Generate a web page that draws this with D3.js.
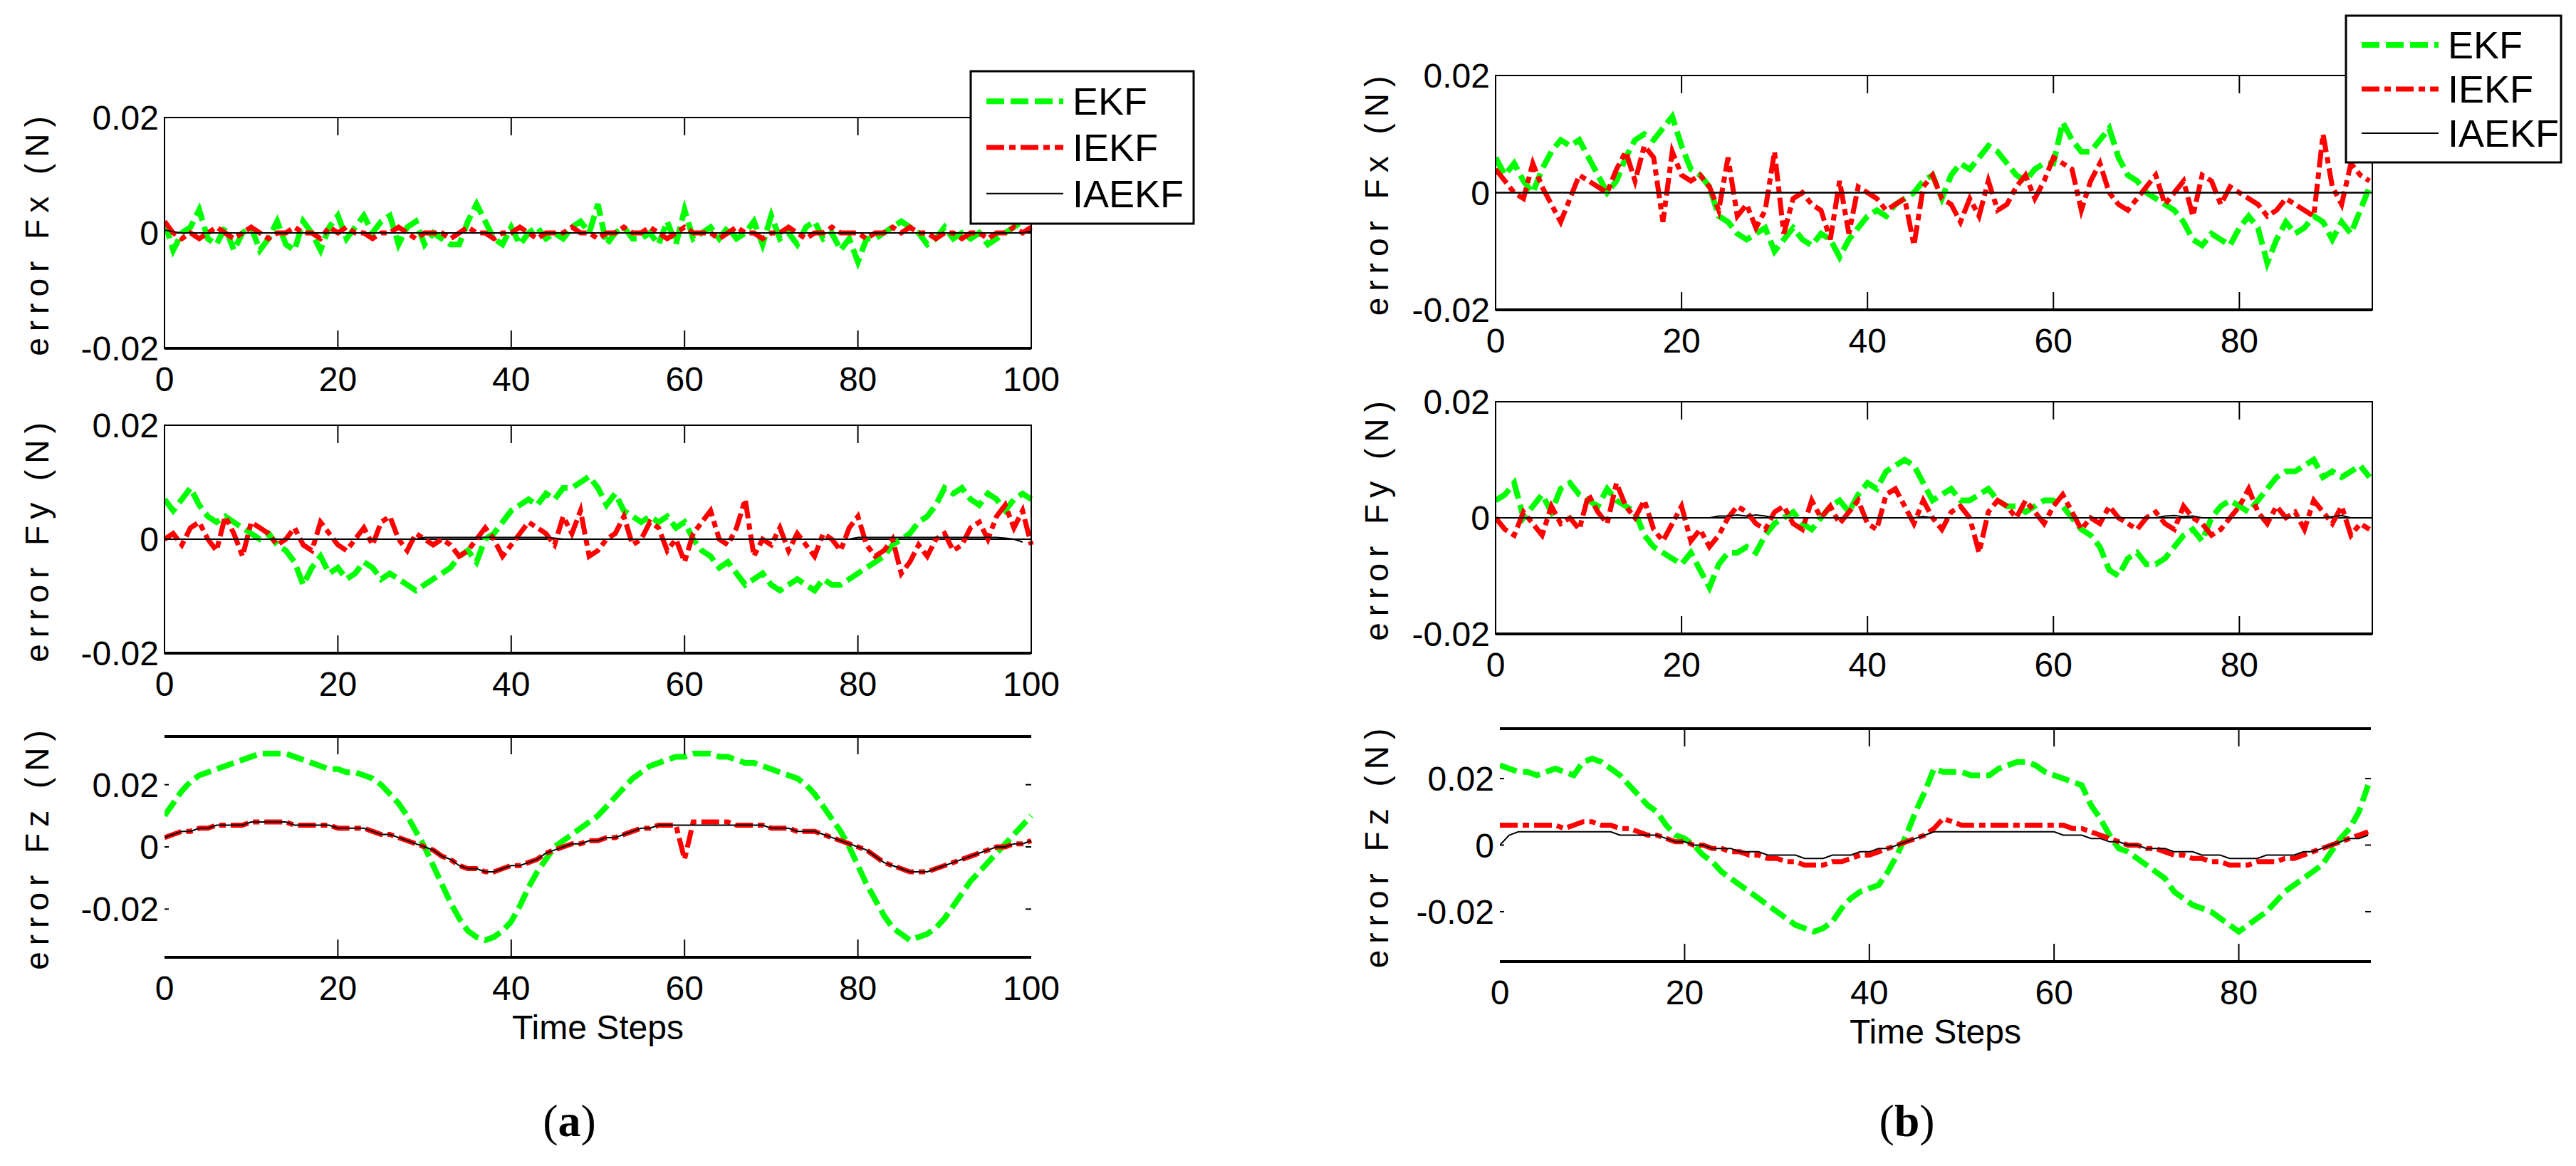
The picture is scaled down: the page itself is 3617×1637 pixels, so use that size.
<!DOCTYPE html>
<html>
<head>
<meta charset="utf-8">
<script src="https://cdn.jsdelivr.net/npm/d3@7"></script>
<style>
  body { margin: 0; background: white; }
  text { font-family: Arial, "Liberation Sans", sans-serif; fill: black; }
  .ekf { fill: none; stroke: #00ff00; stroke-width: 8px; stroke-dasharray: 25 9; }
  .iekf { fill: none; stroke: #ff0000; stroke-width: 7px; stroke-dasharray: 25 7 9 7; }
  .iaekf { fill: none; stroke: black; stroke-width: 2px; }
</style>
</head>
<body>
<svg id="chart" width="3617" height="1637"></svg>
<script>
// values in mN (1e-3 N)
var seriesNames = ["EKF", "IEKF", "IAEKF"];
var yTickValues = [20, 0, -20];
var yTickLabels = ["0.02", "0", "-0.02"];
var xTicks = [0, 20, 40, 60, 80, 100];

// ---- panel (a) ----
var aFxEKF = [2,-3,0,1,4,-1,-2,1,-3,0,1,-3,-1,2,-2,-3,2,0,-3,1,3,-1,1,3,0,2,3,-2,1,2,-2,0,-1,-2,-2,2,5,2,-1,-2,1,-2,0,1,-1,0,-1,1,2,0,5,-2,0,1,-1,-1,0,-2,2,-2,4,-1,0,1,-1,1,-1,0,2,-2,3,-1,0,-2,1,2,-1,0,-3,-1,-5,-1,-1,0,1,2,1,0,-2,-1,1,-1,0,-1,0,-2,-1,0,1,2,3];
var aFxIEKF = [2,0,-1,0,-1,0,1,0,-1,0,1,0,-1,0,0,1,0,0,-1,1,0,1,0,0,-1,0,0,1,0,-1,0,0,0,-1,0,1,0,0,-1,0,0,1,0,-1,0,0,0,1,0,0,-1,0,0,1,0,0,1,0,-1,0,1,0,0,0,-1,0,1,0,0,-1,0,0,1,0,-1,0,0,1,0,0,0,-1,0,0,1,0,1,0,0,-1,0,0,-1,0,0,-1,0,0,1,0,1];
var aFxIAEKF = [0.5,0.2,0,0,0,0,0,0,0,0,0,0,0,0,0,0,0,0,0,0,0,0,0,0,0,0,0,0,0,0,0,0,0,0,0,0,0,0,0,0,0,0,0,0,0,0,0,0,0,0,0,0,0,0,0,0,0,0,0,0,0,0,0,0,0,0,0,0,0,0,0,0,0,0,0,0,0,0,0,0,0,0,0,0,0,0,0,0,0,0,0,0,0,0,0,0,0,0,0,0,0.3];
var aFyEKF = [7,5,7,9,6,4,3,4,3,2,1,0,1,-1,-2,-4,-8,-5,-3,-6,-5,-7,-6,-4,-5,-7,-6,-7,-8,-9,-8,-7,-6,-5,-3,-2,-4,0,1,3,5,6,7,6,8,7,9,9,10,11,9,6,8,5,4,3,4,3,4,2,3,0,-2,-3,-5,-4,-6,-8,-7,-6,-8,-9,-8,-7,-8,-9,-7,-8,-8,-7,-6,-5,-4,-3,-1,0,1,3,4,6,9,8,9,7,6,8,7,5,7,8,7];
var aFyIEKF = [0,1,-1,2,3,0,-2,4,1,-3,3,2,1,-1,0,2,-1,-2,3,1,-1,-2,0,2,-1,3,4,0,-2,1,0,-1,0,-1,-3,-2,0,2,0,-3,-1,1,3,2,1,-1,4,1,5,-3,-2,0,1,4,-1,0,3,2,-2,0,-4,1,3,5,0,-1,2,7,-3,0,-1,2,-2,1,-1,-3,1,0,-2,2,4,-1,-3,-2,0,-6,-4,-1,-3,0,1,-2,-1,2,3,0,4,6,2,5,-1];
var aFyIAEKF = [0,0,0,0,0,0,0,0,0,0,0,0,0,0,0,0,0,0,0,0,0,0,0,0,0,0,0,0,0,0,0.3,0.3,0.3,0.3,0.3,0.3,0.3,0.3,0.3,0.3,0.3,0.3,0.3,0.3,0.3,0.2,0,0,0,0,0,0,0,0,0,0,0,0,0,0,0,0,0,0,0,0,0,0,0,0,0,0,0,0,0,0,0,0,0,0,0.3,0.3,0.3,0.3,0.3,0.3,0.3,0.3,0.3,0.3,0.3,0.3,0.3,0.3,0.3,0.3,0.3,0.2,0,-0.5];
var aFzEKF = [10,14,18,21,23,24,25,26,27,28,29,30,30,30,30,29,28,27,26,25,25,24,24,23,22,20,17,14,10,5,0,-6,-12,-18,-23,-27,-29,-30,-29,-27,-24,-19,-13,-8,-4,0,2,4,6,8,10,13,16,19,22,24,26,27,28,29,29,30,30,30,29,29,28,27,27,26,25,24,23,22,20,17,13,9,5,0,-6,-12,-17,-22,-26,-28,-30,-29,-28,-26,-23,-19,-15,-11,-8,-5,-2,1,4,7,10];
var aFzIEKF = [3,4,5,5,6,6,7,7,7,7,8,8,8,8,8,7,7,7,7,7,6,6,6,6,5,4,4,3,2,1,0,-1,-3,-4,-6,-7,-7,-8,-8,-7,-6,-6,-5,-4,-2,-1,0,1,1,2,2,3,3,4,5,6,6,7,7,7,-4,8,8,8,8,8,7,7,7,7,6,6,6,5,5,5,4,3,2,1,0,-1,-3,-5,-6,-7,-8,-8,-8,-7,-6,-5,-4,-3,-2,-1,0,0,1,1,2];
var aFzIAEKF = [3,4,5,5,6,6,7,7,7,7,8,8,8,8,8,7,7,7,7,7,6,6,6,6,5,4,4,3,2,1,0,-1,-3,-4,-6,-7,-7,-8,-8,-7,-6,-6,-5,-4,-2,-1,0,1,1,2,2,3,3,4,5,6,6,7,7,7,7,7,7,7,7,7,7,7,7,7,6,6,6,5,5,5,4,3,2,1,0,-1,-3,-5,-6,-7,-8,-8,-8,-7,-6,-5,-4,-3,-2,-1,0,0,1,1,2];

// ---- panel (b) ----
var bFxEKF = [6,3,5,2,0,4,7,9,8,9,6,3,0,2,6,9,10,9,11,13,8,4,3,1,-4,-5,-7,-8,-7,-6,-10,-8,-6,-8,-9,-7,-8,-11,-8,-6,-4,-3,-4,-2,-1,0,2,3,-1,3,5,4,6,8,7,5,3,2,4,5,5,12,9,7,7,9,11,6,3,2,0,-1,-2,-3,-5,-8,-9,-7,-8,-9,-6,-4,-6,-12,-8,-5,-7,-6,-4,-5,-8,-5,-7,-3,1];
var bFxIEKF = [4,2,0,-1,5,1,-2,-5,-1,3,2,1,0,4,7,2,8,6,-5,7,3,2,3,1,-3,6,-4,-2,-6,-3,7,-7,-1,0,-2,-3,-8,2,-7,1,0,-1,-3,-2,-1,-9,1,3,-1,-2,-5,-1,-4,2,-3,-2,1,3,-1,2,6,5,4,-3,2,5,0,-2,-3,-1,1,3,-2,0,2,-4,3,2,-2,1,0,-1,-2,-4,-3,-1,-2,-3,-4,10,1,-2,5,3,2];
var bFxIAEKF = [0,0,0,0,0,0,0,0,0,0,0,0,0,0,0,0,0,0,0,0,0,0,0,0,0,0,0,0,0,0,0,0,0,0,0,0,0,0,0,0,0,0,0,0,0,0,0,0,0,0,0,0,0,0,0,0,0,0,0,0,0,0,0,0,0,0,0,0,0,0,0,0,0,0,0,0,0,0,0,0,0,0,0,0,0,0,0,0,0,0,0,0,0,0,0];
var bFyEKF = [3,4,6,0,2,4,1,5,6,4,3,2,5,3,2,1,-3,-5,-6,-7,-8,-6,-9,-12,-8,-6,-6,-5,-6,-3,-1,0,1,-1,-2,0,2,3,1,4,6,5,8,9,10,9,6,3,4,5,3,3,4,5,3,2,2,1,2,3,3,2,0,-2,-3,-5,-9,-10,-7,-6,-8,-8,-7,-5,-3,-2,-4,0,2,3,2,1,3,5,7,8,8,9,10,7,8,7,8,9,7];
var bFyIEKF = [0,-2,-3,1,-1,-3,2,-1,0,-2,4,1,-1,6,2,0,3,-2,-4,-1,2,-4,-2,-5,-3,0,2,1,-1,-2,1,2,-1,-2,3,0,2,-1,1,3,-1,-2,4,5,2,-1,3,0,-2,1,2,0,-6,1,3,2,0,3,1,-1,2,4,1,-2,0,-1,2,0,-1,-2,0,1,-1,-2,2,0,-1,-3,-2,0,2,5,1,-1,2,0,1,-2,3,1,-1,2,-3,-1,-2];
var bFyIAEKF = [0,0,0,0,0,0,0,0,0,0,0,0,0,0,0,0,0,0,0,0,0,0,0,0,0.3,0.3,0.5,0.3,0.5,0.3,0,0,0,0,0,0,0,0,0,0,0,0,0,0,0,0,0.2,0,0,0,0,0,0,0,0,0,0,0,0,0,0,0,0,0,0,0,0,0,0,0,0,0,0.3,0.4,0.2,0.3,0,0,0,0,0,0,0,0,0,0,0,0,0,0,0.2,0.4,0,0,0];
var bFzEKF = [24,23,22,22,21,22,23,22,21,25,26,25,23,21,18,15,12,10,6,3,2,0,-3,-5,-8,-10,-12,-14,-16,-18,-20,-22,-24,-25,-26,-25,-23,-19,-16,-14,-13,-12,-8,-3,3,10,16,23,22,22,22,21,21,21,23,24,25,25,24,22,21,20,19,18,12,8,3,-1,-2,-4,-6,-8,-10,-14,-16,-18,-19,-20,-22,-24,-26,-24,-22,-20,-17,-14,-12,-10,-8,-6,-2,2,5,10,18];
var bFzIEKF = [6,6,6,6,6,6,6,5,6,7,7,6,6,5,5,4,3,3,2,1,1,0,0,-1,-1,-2,-2,-3,-3,-4,-4,-5,-5,-6,-6,-6,-5,-5,-4,-3,-3,-2,-1,0,1,2,3,5,8,7,6,6,6,6,6,6,6,6,6,6,6,6,5,5,4,3,2,1,0,0,-1,-1,-2,-3,-3,-4,-4,-5,-5,-6,-6,-6,-5,-5,-5,-4,-4,-3,-2,-1,0,1,2,3,4];
var bFzIAEKF = [0,3,4,4,4,4,4,4,4,4,4,4,4,3,3,3,3,3,2,1,1,0,0,-1,-1,-1,-2,-2,-2,-3,-3,-3,-3,-4,-4,-4,-3,-3,-3,-2,-2,-1,-1,0,1,2,3,4,4,4,4,4,4,4,4,4,4,4,4,4,4,3,3,3,2,2,1,1,0,0,-1,-1,-1,-2,-2,-2,-3,-3,-3,-4,-4,-4,-4,-3,-3,-3,-3,-2,-2,-1,0,1,2,2,3];

var panels = [
  {x0: 231, x1: 1448, y0: 165, y1: 489, xmax: 100, ydom: [-20, 20], label: "error Fx (N)", lx: 52, full: true,
   data: [aFxEKF, aFxIEKF, aFxIAEKF]},
  {x0: 231, x1: 1448, y0: 597, y1: 917, xmax: 100, ydom: [-20, 20], label: "error Fy (N)", lx: 52, full: true,
   data: [aFyEKF, aFyIEKF, aFyIAEKF]},
  {x0: 231, x1: 1448, y0: 1034, y1: 1344, xmax: 100, ydom: [-35.5, 35.5], label: "error Fz (N)", lx: 52, full: false,
   data: [aFzEKF, aFzIEKF, aFzIAEKF], xtitle: "Time Steps", tag: "a"},
  {x0: 2100, x1: 3331, y0: 106, y1: 435, xmax: 94.3, ydom: [-20, 20], label: "error Fx (N)", lx: 1933, full: true,
   data: [bFxEKF, bFxIEKF, bFxIAEKF]},
  {x0: 2100, x1: 3331, y0: 564, y1: 890, xmax: 94.3, ydom: [-20, 20], label: "error Fy (N)", lx: 1933, full: true,
   data: [bFyEKF, bFyIEKF, bFyIAEKF]},
  {x0: 2106, x1: 3329, y0: 1023, y1: 1350, xmax: 94.3, ydom: [-35, 35], label: "error Fz (N)", lx: 1933, full: false,
   data: [bFzEKF, bFzIEKF, bFzIAEKF], xtitle: "Time Steps", tag: "b"}
];
var classes = ["ekf", "iekf", "iaekf"];

var svg = d3.select("#chart");

panels.forEach(function(p) {
  var x = d3.scaleLinear().domain([0, p.xmax]).range([p.x0, p.x1]);
  var y = d3.scaleLinear().domain(p.ydom).range([p.y1, p.y0]);
  var g = svg.append("g");
  var ticks = xTicks.filter(t => t <= p.xmax);

  var id = "clip" + p.x0 + "_" + p.y0;
  svg.append("clipPath").attr("id", id).append("rect")
    .attr("x", p.x0).attr("y", p.y0 - 20).attr("width", p.x1 - p.x0 + 10).attr("height", p.y1 - p.y0 + 40);

  // zero line for Fx/Fy
  if (p.full) {
    g.append("line").attr("x1", p.x0).attr("x2", p.x1).attr("y1", y(0)).attr("y2", y(0))
      .style("stroke", "black").style("stroke-width", "2px");
  }

  var line = d3.line().x((d, i) => x(i)).y(d => y(d));
  p.data.forEach(function(s, k) {
    g.append("path").datum(s.slice(0, Math.floor(p.xmax) + 1)).attr("class", classes[k])
      .attr("clip-path", "url(#" + id + ")").attr("d", line);
  });

  // frame
  if (p.full) {
    g.append("rect").attr("x", p.x0).attr("y", p.y0).attr("width", p.x1 - p.x0).attr("height", p.y1 - p.y0)
      .style("fill", "none").style("stroke", "black").style("stroke-width", "2px");
    g.append("line").attr("x1", p.x0).attr("x2", p.x1).attr("y1", p.y1).attr("y2", p.y1)
      .style("stroke", "black").style("stroke-width", "4px");
  } else {
    [p.y0, p.y1].forEach(function(yy) {
      g.append("line").attr("x1", p.x0).attr("x2", p.x1).attr("y1", yy).attr("y2", yy)
        .style("stroke", "black").style("stroke-width", "4px");
    });
    yTickValues.forEach(function(v) {
      g.append("line").attr("x1", p.x1 - 8).attr("x2", p.x1).attr("y1", y(v)).attr("y2", y(v))
        .style("stroke", "black").style("stroke-width", "2px");
      g.append("line").attr("x1", p.x0).attr("x2", p.x0 + 6).attr("y1", y(v)).attr("y2", y(v))
        .style("stroke", "black").style("stroke-width", "2px");
    });
  }

  // x ticks (inward, top and bottom)
  ticks.forEach(function(t) {
    if (t > 0 && t < p.xmax) {
      g.append("line").attr("x1", x(t)).attr("x2", x(t)).attr("y1", p.y1).attr("y2", p.y1 - 25)
        .style("stroke", "black").style("stroke-width", "2px");
      g.append("line").attr("x1", x(t)).attr("x2", x(t)).attr("y1", p.y0).attr("y2", p.y0 + 25)
        .style("stroke", "black").style("stroke-width", "2px");
    }
    g.append("text").attr("x", x(t)).attr("y", p.y1 + 60).attr("text-anchor", "middle")
      .style("font-size", "48px").text(t);
  });

  // y tick labels
  yTickValues.forEach(function(v, i) {
    g.append("text").attr("x", p.x0 - 8).attr("y", y(v) + 17).attr("text-anchor", "end")
      .style("font-size", "48px").text(yTickLabels[i]);
  });

  // y label
  var cy = (p.y0 + p.y1) / 2;
  g.append("text").attr("transform", "translate(" + (p.lx + 16) + "," + cy + ") rotate(-90)")
    .attr("text-anchor", "middle").style("font-size", "46px").style("letter-spacing", "9px")
    .text(p.label);

  if (p.xtitle) {
    g.append("text").attr("x", (p.x0 + p.x1) / 2).attr("y", p.y1 + 115).attr("text-anchor", "middle")
      .style("font-size", "48px").text(p.xtitle);
    var t = g.append("text").attr("x", (p.x0 + p.x1) / 2 - 40).attr("y", 1595).attr("text-anchor", "middle")
      .style("font-family", "'Liberation Serif', 'DejaVu Serif', serif").style("font-size", "64px");
    t.append("tspan").text("(");
    t.append("tspan").style("font-weight", "bold").text(p.tag);
    t.append("tspan").text(")");
  }
});

// legends
var legends = [{x: 1363, y: 100, w: 313, h: 214}, {x: 3294, y: 22, w: 302, h: 206}];
legends.forEach(function(L) {
  var g = svg.append("g");
  g.append("rect").attr("x", L.x).attr("y", L.y).attr("width", L.w).attr("height", L.h)
    .style("fill", "white").style("stroke", "black").style("stroke-width", "3px");
  var ly = d3.scaleBand().domain(seriesNames).range([L.y + 10, L.y + L.h - 10]);
  seriesNames.forEach(function(n, k) {
    var yy = ly(n) + ly.bandwidth() / 2;
    g.append("line").attr("class", classes[k]).attr("x1", L.x + 22).attr("x2", L.x + 130)
      .attr("y1", yy).attr("y2", yy);
    g.append("text").attr("x", L.x + 143).attr("y", yy + 19).style("font-size", "54px").text(n);
  });
});
</script>
</body>
</html>
